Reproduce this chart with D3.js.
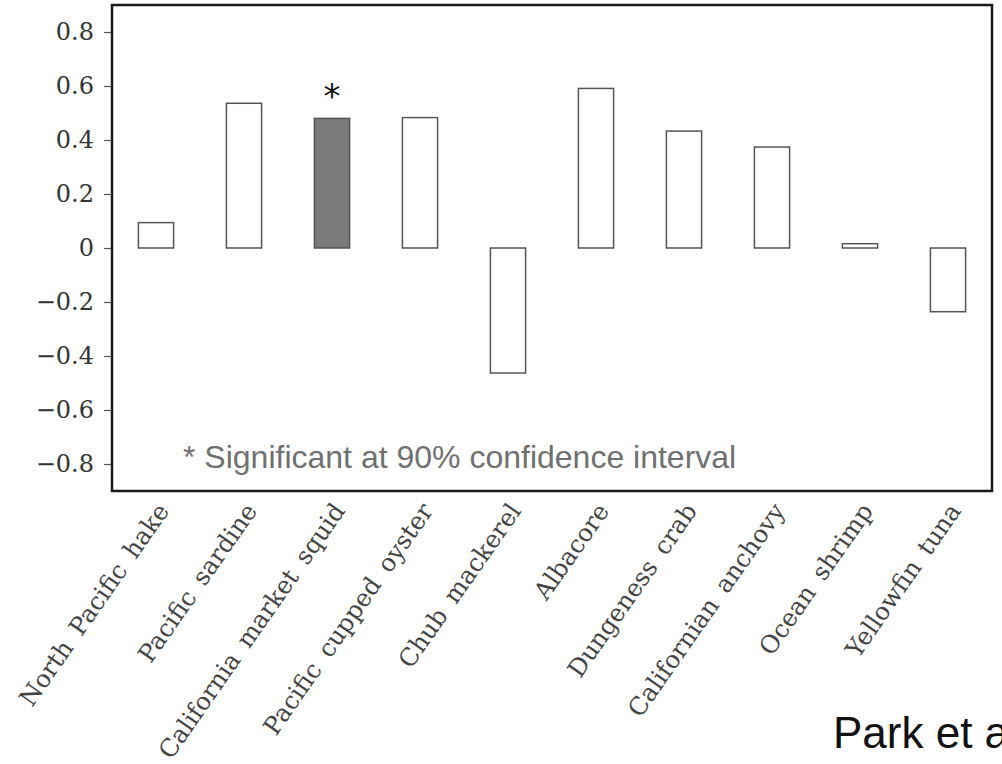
<!DOCTYPE html>
<html><head><meta charset="utf-8">
<script src="https://cdn.jsdelivr.net/npm/d3@7"></script>
<style>html,body{margin:0;padding:0;background:#fff;overflow:hidden}</style>
</head><body>
<svg id="chart" width="1002" height="764"></svg>
<script>
const categories = ["North Pacific hake","Pacific sardine","California market squid","Pacific cupped oyster","Chub mackerel","Albacore","Dungeness crab","Californian anchovy","Ocean shrimp","Yellowfin tuna"];
const values = [0.094, 0.536, 0.480, 0.483, -0.463, 0.591, 0.433, 0.374, 0.016, -0.236];
const significant = [false, false, true, false, false, false, false, false, false, false];
const yTicks = [-0.8, -0.6, -0.4, -0.2, 0, 0.2, 0.4, 0.6, 0.8];
const noteText = "* Significant at 90% confidence interval";
const sourceText = "Park et al.";

const svg = d3.select("#chart");
const L = 112, R = 992, T = 5, B = 491;

const x = d3.scaleBand().domain(categories).range([L, R]).paddingInner(0.6).paddingOuter(0.3);
const y = d3.scaleLinear().domain([-0.9, 0.9]).range([B, T]);

// y axis
const yAxis = d3.axisLeft(y).tickValues(yTicks).tickSize(8).tickPadding(10)
  .tickFormat(d => d === 0 ? "0" : d3.format(".1f")(d));
const ga = svg.append("g").attr("transform", `translate(${L},0)`).call(yAxis);
ga.select(".domain").remove();
ga.selectAll(".tick line").attr("stroke", "#555").attr("stroke-width", 1.2);
ga.selectAll(".tick text").attr("font-family", "DejaVu Serif").attr("font-size", 24).attr("fill", "#333");

// bars
svg.append("g").selectAll("rect").data(categories).join("rect")
  .attr("x", d => x(d))
  .attr("width", x.bandwidth())
  .attr("y", (d, i) => y(Math.max(0, values[i])))
  .attr("height", (d, i) => Math.abs(y(values[i]) - y(0)))
  .attr("fill", (d, i) => significant[i] ? "#7a7a7a" : "#fff")
  .attr("stroke", "#555").attr("stroke-width", 1.5);

// asterisks
svg.append("g").selectAll("text").data(categories.filter((d, i) => significant[i])).join("text")
  .attr("x", d => x(d) + x.bandwidth() / 2)
  .attr("y", d => y(values[categories.indexOf(d)]) - 10)
  .attr("text-anchor", "middle")
  .attr("font-family", "DejaVu Sans").attr("font-size", 34)
  .attr("fill", "#111").text("*");

// frame
svg.append("rect").attr("x", L).attr("y", T).attr("width", R - L).attr("height", B - T)
  .attr("fill", "none").attr("stroke", "#1a1a1a").attr("stroke-width", 2.5);

// note
svg.append("text").attr("x", 183).attr("y", 468)
  .attr("font-family", "Liberation Sans").attr("font-size", 32).attr("fill", "#707070")
  .text(noteText);

// x labels
svg.append("g").selectAll("text").data(categories).join("text")
  .attr("transform", d => `translate(${x(d) + x.bandwidth() / 2 + 14},${B + 20}) rotate(-55)`)
  .attr("text-anchor", "end")
  .attr("font-family", "DejaVu Serif").attr("font-size", 24.5).attr("fill", "#444")
  .attr("word-spacing", 5)
  .text(d => d);

// source
svg.append("text").attr("x", 833).attr("y", 748)
  .attr("font-family", "Liberation Sans").attr("font-size", 44).attr("fill", "#111")
  .text(sourceText);
</script>
</body></html>
